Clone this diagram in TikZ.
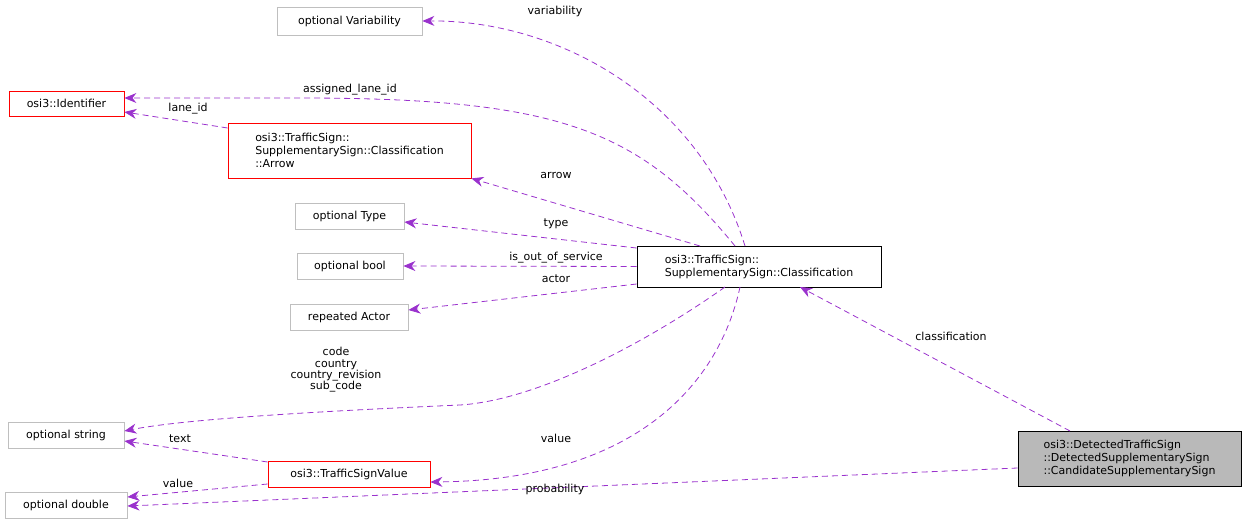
\documentclass[tikz,border=0pt]{standalone}
\usepackage{fontspec}
\setmainfont{DejaVu Sans}
\usetikzlibrary{arrows.meta}
\definecolor{edge}{HTML}{9A32CD}
\begin{document}
\begin{tikzpicture}[x=1pt,y=-1pt,
  box/.style={draw=#1,fill=white,inner sep=0pt,font=\fontsize{11}{13}\selectfont,line width=0.8pt},
  lbl/.style={font=\fontsize{11}{13}\selectfont,inner sep=1pt,align=center},
  e/.style={draw=edge,dash pattern=on 6pt off 4pt,-{Stealth[length=12pt,width=10pt]},line width=0.8pt}]
\useasboundingbox (0,0) rectangle (1247,524);
\node[box=gray!50,minimum width=145pt,minimum height=28pt] (var) at (349.5,21) {optional Variability};
\node[box=red,minimum width=115pt,minimum height=25pt] (id) at (66.5,103.5) {osi3::Identifier};
\node[box=red,minimum width=243pt,minimum height=55pt,align=left] (arr) at (349.5,150.5) {osi3::TrafficSign::\\SupplementarySign::Classification\\::Arrow};
\node[box=gray!50,minimum width=109pt,minimum height=26pt] (type) at (349.5,216) {optional Type};
\node[box=gray!50,minimum width=106pt,minimum height=26pt] (bool) at (350,266) {optional bool};
\node[box=gray!50,minimum width=118pt,minimum height=26pt] (actor) at (349,317) {repeated Actor};
\node[box=black,minimum width=244pt,minimum height=41pt,align=left] (cls) at (759,266.5) {osi3::TrafficSign::\\SupplementarySign::Classification};
\node[box=gray!50,minimum width=116pt,minimum height=26pt] (str) at (66,435) {optional string};
\node[box=red,minimum width=162pt,minimum height=26pt] (tsv) at (349,474) {osi3::TrafficSignValue};
\node[box=gray!50,minimum width=122pt,minimum height=26pt] (dbl) at (66,505) {optional double};
\node[box=black,fill=gray!55,minimum width=223pt,minimum height=55pt,align=left] (cand) at (1129.5,458.5) {osi3::DetectedTrafficSign\\::DetectedSupplementarySign\\::CandidateSupplementarySign};
\coordinate (c1) at (745,246);
\coordinate (c2) at (735,246);
\coordinate (c3) at (700,246);
\coordinate (c4) at (725,287);
\coordinate (c5) at (740,287);
\coordinate (c6) at (800,287);
\coordinate (k1) at (1070,431);
\draw[e] (c1) .. controls (700,100) and (560,20) .. (var.east);
\draw[e] (c2) .. controls (640,130) and (560,98) .. (300,98) -- (id.east |- 0,98);
\draw[e] (arr.west |- 0,128) -- (id.east |- 0,112);
\draw[e] (c3) -- (arr.south east);
\draw[e] (cls.west |- 0,248) -- (type.east |- 0,222);
\draw[e] (cls.west) -- (bool.east);
\draw[e] (cls.west |- 0,284) -- (actor.east |- 0,310);
\draw[e] (c4) .. controls (650,340) and (540,400) .. (460,405) .. controls (300,412) and (180,420) .. (str.east |- 0,431);
\draw[e] (c5) .. controls (720,380) and (640,480) .. (tsv.east |- 0,482);
\draw[e] (tsv.west |- 0,462) -- (str.east |- 0,441);
\draw[e] (tsv.west |- 0,484) -- (dbl.east |- 0,497);
\draw[e] (k1) -- (c6);
\draw[e] (cand.west |- 0,468) -- (dbl.east |- 0,506);
\node[lbl] (l1) at (555,11) {variability};
\node[lbl] (l2) at (350,90) {assigned\_lane\_id};
\node[lbl] (l3) at (188,109) {lane\_id};
\node[lbl] (l4) at (556,175) {arrow};
\node[lbl] (l5) at (556,224) {type};
\node[lbl] (l6) at (556,258) {is\_out\_of\_service};
\node[lbl] (l7) at (556,279) {actor};
\node[lbl,font=\fontsize{11}{11.3}\selectfont] (l8) at (336,370) {code\\country\\country\_revision\\sub\_code};
\node[lbl] (l9) at (556,438) {value};
\node[lbl] (l10) at (180,439) {text};
\node[lbl] (l11) at (178,483) {value};
\node[lbl] (l12) at (951,336) {classification};
\node[lbl] (l13) at (555,489) {probability};
\end{tikzpicture}
\end{document}
